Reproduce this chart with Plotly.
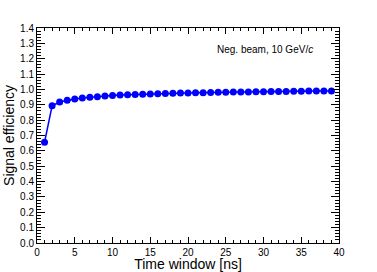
import plotly.graph_objects as go

time_window = list(range(1, 40))
efficiency = [0.656, 0.893, 0.918, 0.929, 0.937, 0.944, 0.949, 0.953, 0.957, 0.960,
              0.963, 0.965, 0.967, 0.969, 0.971, 0.972, 0.974, 0.975, 0.976, 0.977,
              0.978, 0.979, 0.980, 0.981, 0.982, 0.983, 0.983, 0.984, 0.985, 0.985,
              0.986, 0.987, 0.987, 0.988, 0.988, 0.989, 0.989, 0.990, 0.990]

x_tick_vals = [0, 5, 10, 15, 20, 25, 30, 35, 40]
y_tick_vals = [round(0.1 * i, 1) for i in range(15)]
y_tick_text = [f"{v:.1f}" for v in y_tick_vals]

FONT = "Liberation Sans, Arial, Helvetica, sans-serif"

fig = go.Figure()
fig.add_trace(go.Scatter(
    x=time_window, y=efficiency, mode="lines+markers",
    line=dict(color="#0000ff", width=1.5),
    marker=dict(color="#0000ff", size=7),
    showlegend=False,
))

fig.update_layout(
    width=377, height=272,
    margin=dict(l=37, r=38, t=28, b=29),
    paper_bgcolor="white", plot_bgcolor="white",
    font=dict(family=FONT, color="black", size=10),
    annotations=[dict(
        text="Neg. beam, 10 GeV/<i>c</i>",
        xref="paper", yref="paper", x=0.92, y=0.902,
        xanchor="right", yanchor="middle", showarrow=False,
        font=dict(size=10, family=FONT, color="black"),
    )],
)

fig.update_xaxes(
    range=[0, 40], tickvals=x_tick_vals, ticks="inside", ticklen=6,
    tickcolor="black", linecolor="black", linewidth=1, mirror="ticks",
    showline=True, showgrid=False, zeroline=False, automargin=False,
    tickfont=dict(size=10),
    minor=dict(dtick=1, ticks="inside", ticklen=3, tickcolor="black", showgrid=False),
    title=dict(text="Time window [ns]", font=dict(size=14), standoff=2),
)
fig.update_yaxes(
    range=[0, 1.4], tickvals=y_tick_vals, ticktext=y_tick_text,
    ticks="inside", ticklen=8,
    tickcolor="black", linecolor="black", linewidth=1, mirror="ticks",
    showline=True, showgrid=False, zeroline=False, automargin=False,
    tickfont=dict(size=10),
    minor=dict(dtick=0.02, ticks="inside", ticklen=4, tickcolor="black", showgrid=False),
    title=dict(text="Signal efficiency", font=dict(size=14), standoff=2),
)

fig.write_html("out.html",
               config={"displayModeBar": False, "staticPlot": True},
               post_script="document.body.style.margin='0';document.body.style.padding='0';")
